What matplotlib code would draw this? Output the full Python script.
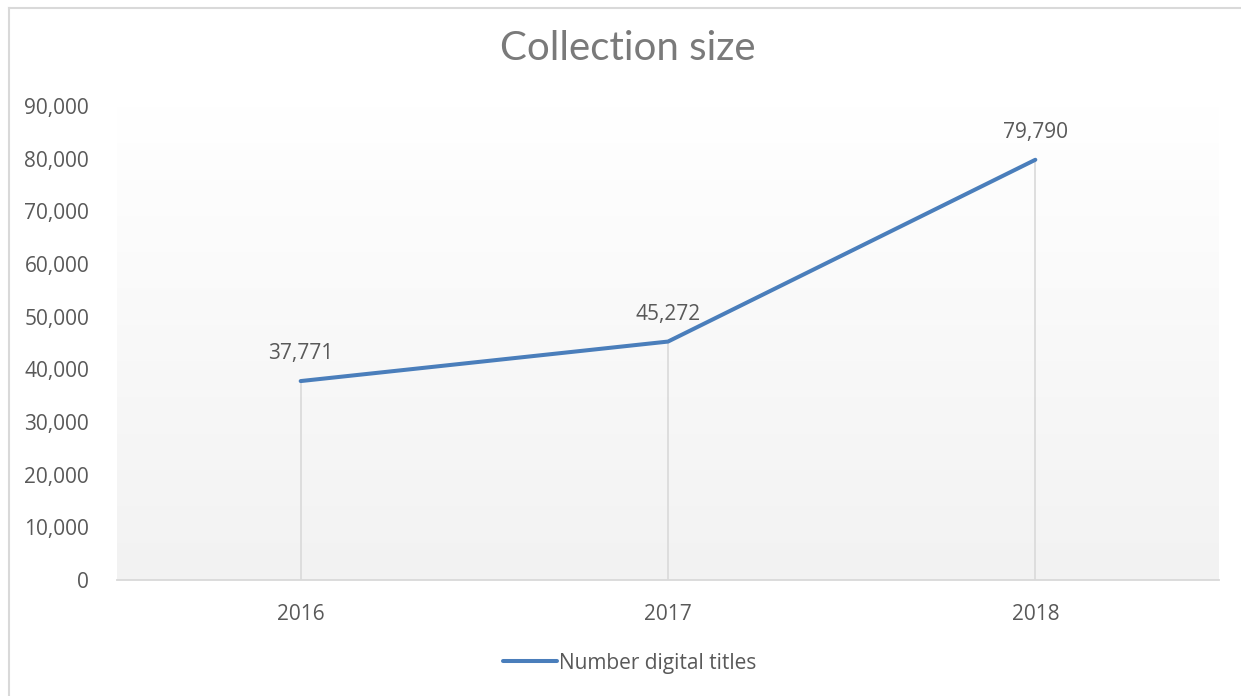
import matplotlib
matplotlib.use('Agg')
import matplotlib.pyplot as plt
import numpy as np
from matplotlib.lines import Line2D

# ===== DADOS =====
years = ['2016', '2017', '2018']
titles = [37771, 45272, 79790]
series_name = 'Number digital titles'
y_ticks = [0, 10000, 20000, 30000, 40000, 50000, 60000, 70000, 80000, 90000]

plt.rcParams['font.family'] = ['Open Sans', 'DejaVu Sans']
text_col = '#595959'
line_col = '#4a7ebb'

fig = plt.figure(figsize=(12.41, 6.96), dpi=100)
ax = fig.add_axes([117 / 1241, 1 - 580 / 696, (1219 - 117) / 1241, (580 - 106) / 696])

x = np.arange(len(years))
ax.set_xlim(-0.5, len(years) - 0.5)
ax.set_ylim(0, 90000)

# fundo em degradê (branco em cima -> cinza claro embaixo)
grad = np.linspace(1.0, 0.949, 256).reshape(-1, 1)
ax.imshow(np.dstack([grad, grad, grad]), extent=[-0.5, len(years) - 0.5, 0, 90000],
          origin='upper', aspect='auto', zorder=0, interpolation='bilinear')

# linhas de queda
ax.vlines(x, 0, titles, color='#d9d9d9', linewidth=1.2, zorder=1)

ax.plot(x, titles, color=line_col, linewidth=2.9, solid_capstyle='round',
        label=series_name, zorder=3)

for xi, v in zip(x, titles):
    ax.annotate(f'{v:,}', (xi, v), xytext=(0, 12), textcoords='offset points',
                ha='center', va='bottom', fontsize=15, color=text_col)

ax.set_xticks(x)
ax.set_xticklabels(years)
ax.set_yticks(y_ticks)
ax.set_yticklabels([f'{t:,}' for t in y_ticks])
ax.tick_params(axis='both', length=0, labelsize=15, colors=text_col)
ax.tick_params(axis='x', pad=17)
ax.tick_params(axis='y', pad=20)

for s in ['top', 'right', 'left']:
    ax.spines[s].set_visible(False)
ax.spines['bottom'].set_color('#d9d9d9')
ax.spines['bottom'].set_linewidth(1.3)

fig.text(628 / 1241, 1 - 49 / 696, 'Collection size', ha='center', va='center',
         fontsize=29, color='#7a7a7a', family=['Lato', 'DejaVu Sans'])

fig.legend(loc='center', bbox_to_anchor=(630 / 1241, 1 - 663 / 696), frameon=False,
           fontsize=15, labelcolor=text_col, handlelength=2.6, handletextpad=0.1)

# borda do gráfico
fig.add_artist(Line2D([8.5 / 1241, 1.0], [1 - 7.5 / 696] * 2, color='#d9d9d9', linewidth=1.5))
fig.add_artist(Line2D([8.5 / 1241] * 2, [0, 1 - 7.5 / 696], color='#d9d9d9', linewidth=1.5))

plt.savefig('out.png', dpi=100)
